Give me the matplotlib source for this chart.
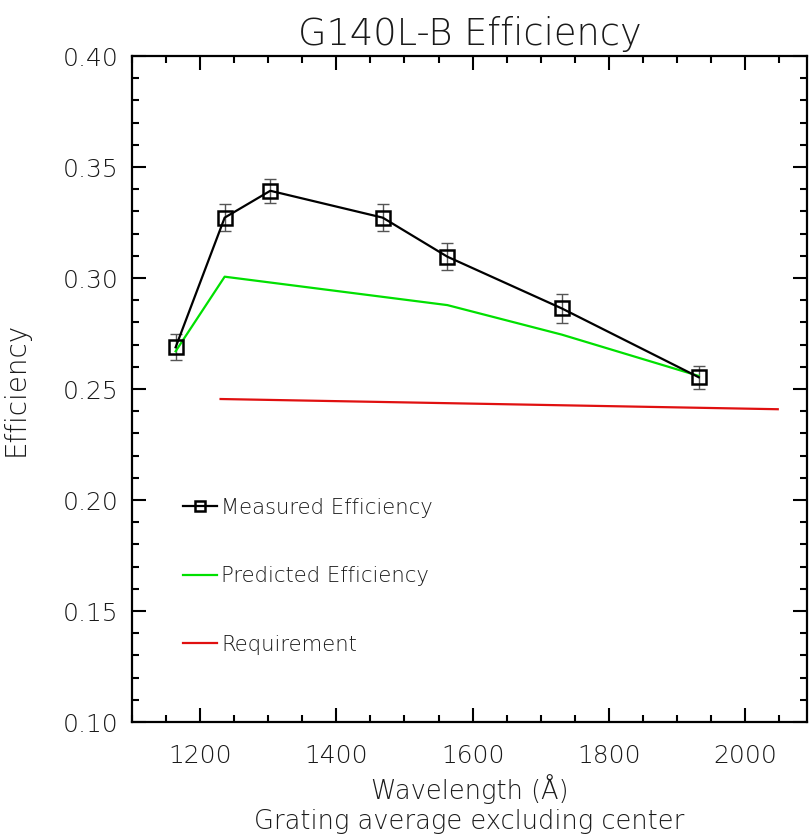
import numpy as np
import matplotlib
matplotlib.use("Agg")
from matplotlib import pyplot as plt
from matplotlib.ticker import MultipleLocator, FormatStrFormatter

# measured grating efficiency (grating average excluding center)
meas_wave = [1164, 1236, 1303, 1468, 1563, 1731, 1932]
meas_eff = [0.2688, 0.3272, 0.3393, 0.3272, 0.3096, 0.2863, 0.2553]
meas_err = [0.0058, 0.0062, 0.0054, 0.0062, 0.0062, 0.0066, 0.0052]

pred_wave = [1164, 1236, 1563, 1731, 1932]
pred_eff = [0.2670, 0.3006, 0.2878, 0.2745, 0.2559]

req_wave = [1230, 2048]
req_eff = [0.2455, 0.2409]

plt.rcParams["font.family"] = ["DejaVu Sans"]
plt.rcParams["font.weight"] = "light"
plt.rcParams["axes.titleweight"] = "light"
plt.rcParams["axes.labelweight"] = "light"
text_col = "#1a1a1a"

fig = plt.figure(figsize=(8.12, 8.35), dpi=100)
ax = fig.add_axes([0.1626, 0.1353, 0.8313, 0.7976])

ax.errorbar(meas_wave, meas_eff, yerr=meas_err, fmt="none", ecolor="#555555",
            elinewidth=1.0, capsize=4, capthick=1.0, zorder=2)
ax.plot(meas_wave, meas_eff, color="black", lw=1.6, marker="s", ms=9.5,
        mfc="none", mec="black", mew=1.8, label="Measured Efficiency", zorder=3)
ax.plot(pred_wave, pred_eff, color="#00e000", lw=1.6, label="Predicted Efficiency", zorder=2)
ax.plot(req_wave, req_eff, color="#e01010", lw=1.6, label="Requirement", zorder=2)

ax.set_xlim(1100, 2091)
ax.set_ylim(0.10, 0.40)

ax.xaxis.set_major_locator(MultipleLocator(200))
ax.xaxis.set_minor_locator(MultipleLocator(50))
ax.yaxis.set_major_locator(MultipleLocator(0.05))
ax.yaxis.set_minor_locator(MultipleLocator(0.01))
ax.yaxis.set_major_formatter(FormatStrFormatter("%.2f"))

ax.tick_params(which="both", direction="in", top=True, right=True, width=1.5,
               labelsize=18, labelcolor=text_col)
ax.tick_params(which="major", length=10)
ax.tick_params(which="minor", length=5)
ax.tick_params(axis="y", pad=10)
ax.tick_params(axis="x", pad=16)
for s in ax.spines.values():
    s.set_linewidth(1.6)

ax.set_title("G140L-B Efficiency", fontsize=26.5, color=text_col, pad=8)
ax.set_ylabel("Efficiency", fontsize=20, color=text_col)
ax.yaxis.set_label_coords(-0.152, 0.5)
ax.set_xlabel("Wavelength (Å)\nGrating average excluding center", fontsize=18.5,
              color=text_col, linespacing=1.25)
ax.xaxis.set_label_coords(0.5, -0.078)

ax.legend(loc="upper left", bbox_to_anchor=(0.0756, 0.337), frameon=False,
          fontsize=15.2, handlelength=1.6, handletextpad=0.2, labelspacing=2.3,
          borderpad=0, borderaxespad=0, markerscale=0.75, labelcolor=text_col)

fig.savefig("out.png", dpi=100)
